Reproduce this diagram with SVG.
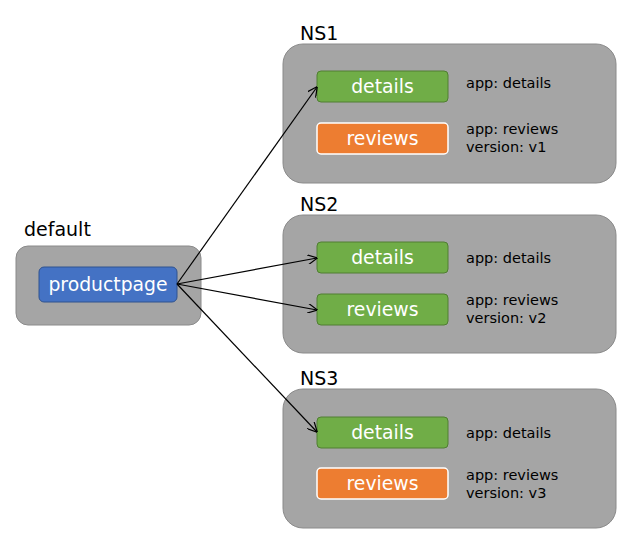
<svg xmlns="http://www.w3.org/2000/svg" width="638" height="548" viewBox="0 0 638 548">
<defs>
<style>
.ns{fill:#a5a5a5;stroke:#8a8a8a;stroke-width:1}
.title{font-family:"DejaVu Sans",sans-serif;font-size:19px;fill:#000}
.det{fill:#70ad47;stroke:#507e32;stroke-width:1}
.rev{fill:#ed7d31;stroke:#ffffff;stroke-width:1.5}
.pp{fill:#4472c4;stroke:#2f528f;stroke-width:1}
.lbl{font-family:"DejaVu Sans",sans-serif;font-size:18.8px;fill:#fff;text-anchor:middle}
.meta{font-family:"DejaVu Sans",sans-serif;font-size:14.5px;fill:#000}
.conn{stroke:#000;stroke-width:1.2;fill:none;marker-end:url(#arr)}
</style>
<marker id="arr" viewBox="0 0 10 10" refX="9.5" refY="5" markerWidth="10" markerHeight="10" markerUnits="userSpaceOnUse" orient="auto">
<path d="M0,0 L10,5 L0,10" fill="none" stroke="#000" stroke-width="1.2"/>
</marker>
</defs>
<rect width="638" height="548" fill="#fff"/>
<g id="default">
<text class="title" x="24" y="236">default</text>
<rect class="ns" x="16" y="246" width="185" height="79" rx="12"/>
</g>
<g id="productpage">
<rect class="pp" x="39" y="267" width="138" height="35" rx="5"/>
<text class="lbl" x="108" y="291">productpage</text>
</g>
<g id="ns1">
<text class="title" x="300" y="40">NS1</text>
<rect class="ns" x="283" y="44" width="333" height="139" rx="20"/>
<g id="ns1-details">
<rect class="det" x="317" y="71" width="131" height="31" rx="4"/>
<text class="lbl" x="382.5" y="93">details</text>
</g>
<text class="meta" x="466" y="88">app: details</text>
<g id="ns1-reviews">
<rect class="rev" x="317" y="123" width="131" height="31" rx="4"/>
<text class="lbl" x="382.5" y="145">reviews</text>
</g>
<text class="meta" x="466" y="134">app: reviews</text>
<text class="meta" x="466" y="152">version: v1</text>
</g>
<g id="ns2">
<text class="title" x="300" y="211">NS2</text>
<rect class="ns" x="283" y="215" width="333" height="138" rx="20"/>
<g id="ns2-details">
<rect class="det" x="317" y="242" width="131" height="31" rx="4"/>
<text class="lbl" x="382.5" y="264">details</text>
</g>
<text class="meta" x="466" y="263">app: details</text>
<g id="ns2-reviews">
<rect class="det" x="317" y="294" width="131" height="31" rx="4"/>
<text class="lbl" x="382.5" y="316">reviews</text>
</g>
<text class="meta" x="466" y="305">app: reviews</text>
<text class="meta" x="466" y="323">version: v2</text>
</g>
<g id="ns3">
<text class="title" x="300" y="385">NS3</text>
<rect class="ns" x="283" y="389" width="333" height="139" rx="20"/>
<g id="ns3-details">
<rect class="det" x="317" y="417" width="131" height="31" rx="4"/>
<text class="lbl" x="382.5" y="439">details</text>
</g>
<text class="meta" x="466" y="438">app: details</text>
<g id="ns3-reviews">
<rect class="rev" x="317" y="468" width="131" height="31" rx="4"/>
<text class="lbl" x="382.5" y="490">reviews</text>
</g>
<text class="meta" x="466" y="480">app: reviews</text>
<text class="meta" x="466" y="498">version: v3</text>
</g>
<g id="connectors">
<line class="conn" x1="177" y1="284" x2="317" y2="87"/>
<line class="conn" x1="177" y1="284" x2="317" y2="258"/>
<line class="conn" x1="177" y1="284" x2="317" y2="310"/>
<line class="conn" x1="177" y1="284" x2="317" y2="432"/>
</g>
</svg>
